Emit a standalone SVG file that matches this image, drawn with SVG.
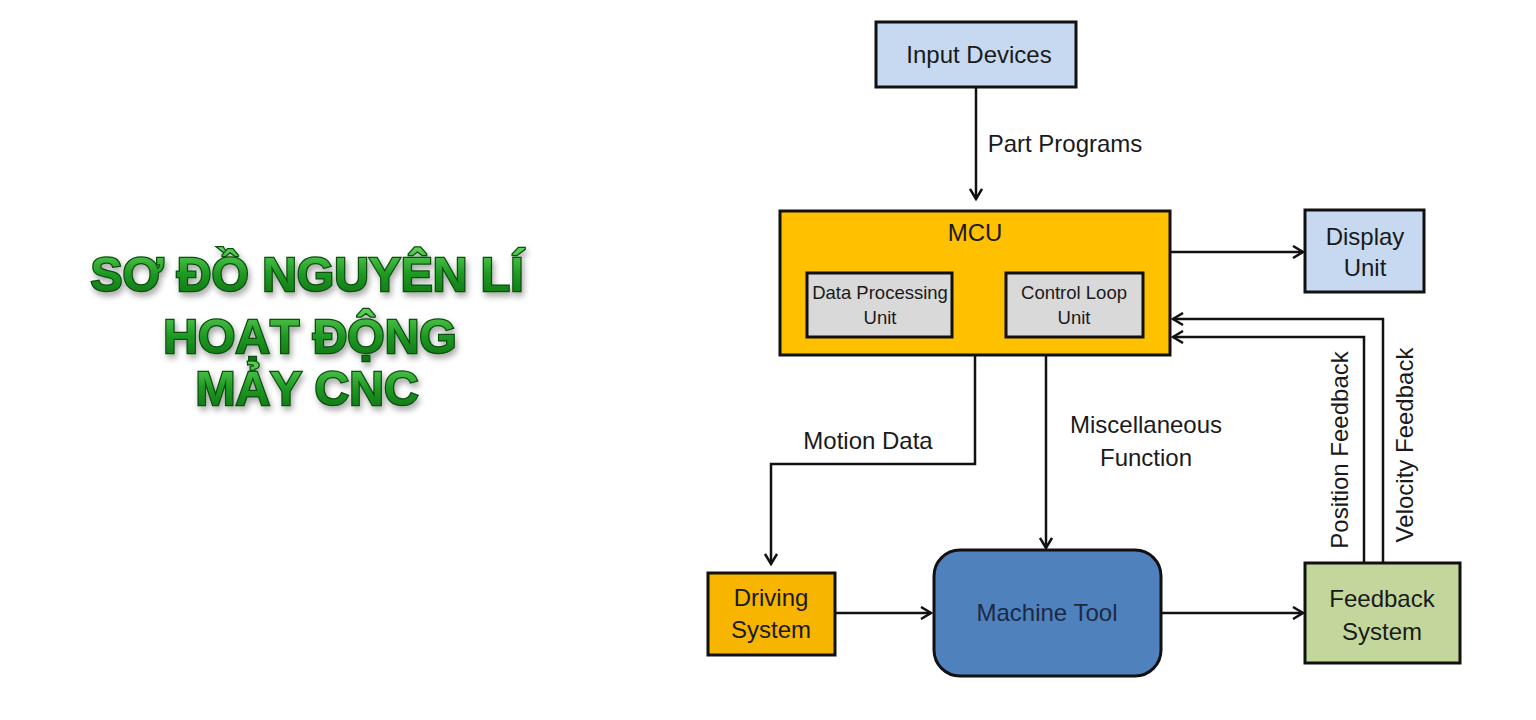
<svg xmlns="http://www.w3.org/2000/svg" width="1536" height="720" viewBox="0 0 1536 720">
<style>
.box{stroke:#111;stroke-width:3}
.t{font-family:"Liberation Sans",Arial,sans-serif;font-size:24px;fill:#1a1a1a;text-anchor:middle}
.s{font-size:18.5px}
.c{fill:none;stroke:#111;stroke-width:2.5}
.title{font-family:"Liberation Sans",Arial,sans-serif;font-weight:bold;font-size:48px;text-anchor:middle;fill:url(#g);stroke:#0b4d0f;stroke-width:2.5;paint-order:stroke;filter:url(#sh)}
</style>
<defs>
<marker id="a" viewBox="0 0 14 14" refX="12" refY="7" markerWidth="14" markerHeight="14" markerUnits="userSpaceOnUse" orient="auto">
<path d="M2,1 L12,7 L2,13" fill="none" stroke="#111" stroke-width="2.5"/>
</marker>
<linearGradient id="g" x1="0" y1="0" x2="0" y2="1">
<stop offset="0" stop-color="#5fd25a"/>
<stop offset="0.5" stop-color="#1e9a22"/>
<stop offset="1" stop-color="#0d6e12"/>
</linearGradient>
<filter id="sh" x="-10%" y="-20%" width="120%" height="150%">
<feGaussianBlur in="SourceAlpha" stdDeviation="3"/>
<feOffset dx="2" dy="4" result="b"/>
<feComponentTransfer><feFuncA type="linear" slope="0.35"/></feComponentTransfer>
<feMerge><feMergeNode/><feMergeNode in="SourceGraphic"/></feMerge>
</filter>
</defs>
<rect width="1536" height="720" fill="#fff"/>
<g id="title">
<text class="title" x="307" y="291">SƠ ĐỒ NGUYÊN LÍ</text>
<text class="title" x="310" y="353">HOẠT ĐỘNG</text>
<text class="title" x="307" y="405">MẢY CNC</text>
</g>
<g id="connectors">
<path class="c" d="M976,88 V199" marker-end="url(#a)"/>
<text class="t" x="1065" y="152">Part Programs</text>
<path class="c" d="M1170,252 H1303" marker-end="url(#a)"/>
<path class="c" d="M1383,563 V319 H1173" marker-end="url(#a)"/>
<path class="c" d="M1364,563 V337 H1173" marker-end="url(#a)"/>
<text class="t" transform="translate(1348,450) rotate(-90)">Position Feedback</text>
<text class="t" transform="translate(1413,445) rotate(-90)">Velocity Feedback</text>
<path class="c" d="M975,356 V464 H771 V564" marker-end="url(#a)"/>
<text class="t" x="868" y="449">Motion Data</text>
<path class="c" d="M1046,356 V548" marker-end="url(#a)"/>
<text class="t" x="1146" y="433">Miscellaneous</text>
<text class="t" x="1146" y="466">Function</text>
<path class="c" d="M836,613 H931" marker-end="url(#a)"/>
<path class="c" d="M1162,613 H1303" marker-end="url(#a)"/>
</g>
<g id="input-devices">
<rect class="box" x="876" y="22" width="200" height="65" fill="#c6d9f1"/>
<text class="t" x="979" y="63">Input Devices</text>
</g>
<g id="mcu">
<rect class="box" x="780" y="211" width="390" height="144" fill="#ffc000"/>
<text class="t" x="975" y="241">MCU</text>
</g>
<g id="data-processing-unit">
<rect class="box" x="807" y="273" width="145" height="64" fill="#d9d9d9"/>
<text class="t s" x="880" y="299">Data Processing</text>
<text class="t s" x="880" y="324">Unit</text>
</g>
<g id="control-loop-unit">
<rect class="box" x="1006" y="273" width="137" height="64" fill="#d9d9d9"/>
<text class="t s" x="1074" y="299">Control Loop</text>
<text class="t s" x="1074" y="324">Unit</text>
</g>
<g id="display-unit">
<rect class="box" x="1305" y="210" width="119" height="82" fill="#c6d9f1"/>
<text class="t" x="1365" y="245">Display</text>
<text class="t" x="1365" y="276">Unit</text>
</g>
<g id="driving-system">
<rect class="box" x="708" y="573" width="127" height="82" fill="#f7b500"/>
<text class="t" x="771" y="606">Driving</text>
<text class="t" x="771" y="638">System</text>
</g>
<g id="machine-tool">
<rect class="box" x="934" y="550" width="227" height="126" rx="26" fill="#4f81bd"/>
<text class="t" x="1047" y="621" style="fill:#1c2a44">Machine Tool</text>
</g>
<g id="feedback-system">
<rect class="box" x="1305" y="563" width="155" height="100" fill="#c3d69b"/>
<text class="t" x="1382" y="607">Feedback</text>
<text class="t" x="1382" y="640">System</text>
</g>
</svg>
